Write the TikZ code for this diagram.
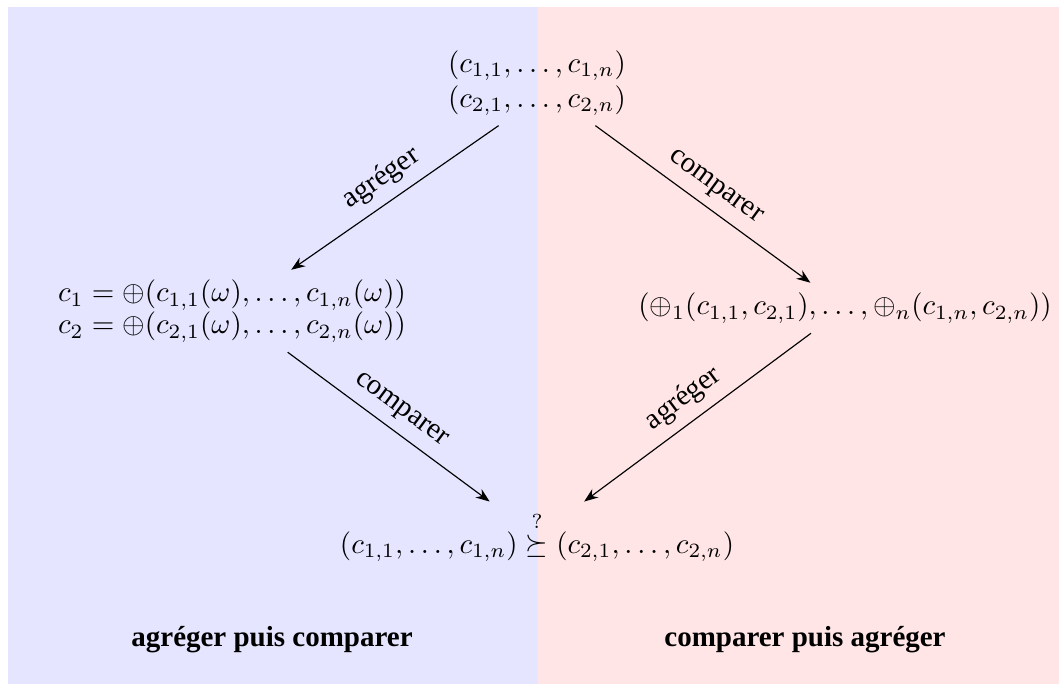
\documentclass[tikz,border=0pt]{standalone}
\usepackage{amsmath,amssymb}
\usepackage{fontspec}
\setmainfont{Liberation Serif}
\usetikzlibrary{arrows.meta,positioning}

\begin{document}
\begin{tikzpicture}[>=Stealth,x=0.345pt,y=-0.345pt,
 expr/.style={align=center},
 lbl/.style={sloped,above},
 titre/.style={font=\bfseries}]
\useasboundingbox (0,0) rectangle (1059,684);
\fill[blue!10] (8,7) rectangle (538,684);
\fill[red!10] (538,7) rectangle (1059,684);
\node[expr](paires) at (537,83) {$(c_{1,1},\ldots,c_{1,n})$\\$(c_{2,1},\ldots,c_{2,n})$};
\node[expr](agreg) at (232,311) {$c_1=\oplus(c_{1,1}(\omega),\ldots,c_{1,n}(\omega))$\\[-1pt]$c_2=\oplus(c_{2,1}(\omega),\ldots,c_{2,n}(\omega))$};
\node(comp) at (845,308) {$(\oplus_1(c_{1,1},c_{2,1}),\ldots,\oplus_n(c_{1,n},c_{2,n}))$};
\node[anchor=base](pref) at (537,553) {$(c_{1,1},\ldots,c_{1,n})\overset{?}{\succeq}(c_{2,1},\ldots,c_{2,n})$};
\node[titre,anchor=base](gauche) at (272,646) {agréger puis comparer};
\node[titre,anchor=base](droite) at (805,646) {comparer puis agréger};
\draw[->](paires.228)--node[lbl]{agréger}(agreg);
\draw[->](paires)--node[lbl]{comparer}(comp);
\draw[->](agreg)--node[lbl]{comparer}(pref);
\draw[->](comp)--node[lbl]{agréger}(pref);
\end{tikzpicture}
\end{document}
